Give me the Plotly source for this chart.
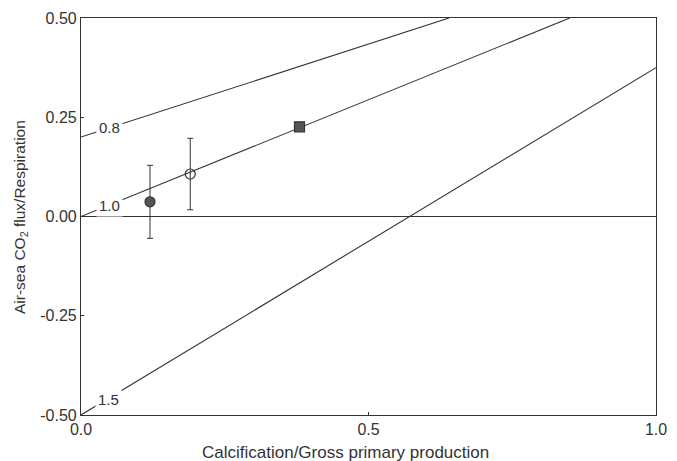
import plotly.graph_objects as go

# Observed points
pt_x = [0.12, 0.19, 0.38]
pt_y = [0.037, 0.107, 0.226]
err_plus = [0.092, 0.090, 0.0]
err_minus = [0.092, 0.090, 0.0]
pt_symbols = ["circle", "circle-open", "square"]

# Isopleth lines (ratio labels) as endpoint pairs
ratio_labels = ["0.8", "1.0", "1.5"]
line_x = [[0.0, 0.64], [0.0, 0.85], [0.0, 1.0]]
line_y = [[0.20, 0.50], [0.0, 0.50], [-0.50, 0.375]]
label_x = [0.05, 0.05, 0.047]
label_y = [0.223, 0.028, -0.461]

x_ticks = [0.0, 0.5, 1.0]
x_ticklabels = ["0.0", "0.5", "1.0"]
y_ticks = [-0.5, -0.25, 0.0, 0.25, 0.5]
y_ticklabels = ["-0.50", "-0.25", "0.00", "0.25", "0.50"]

x_title = "Calcification/Gross primary production"
y_title = "Air-sea CO<sub>2</sub> flux/Respiration"

LINE = "#333333"
FONT = "Liberation Sans, Arial, sans-serif"
L, R, T, B = 81, 21, 18, 46
W, H = 677, 461
PW, PH = W - L - R, H - T - B

fig = go.Figure()

for lx, ly in zip(line_x, line_y):
    fig.add_trace(go.Scatter(x=lx, y=ly, mode="lines",
                             line=dict(color=LINE, width=1.1),
                             hoverinfo="skip", showlegend=False))

for lx, ly, lab in zip(label_x, label_y, ratio_labels):
    fig.add_annotation(x=lx, y=ly, text=lab, showarrow=False,
                       font=dict(family=FONT, size=15, color="#333"),
                       bgcolor="white", borderpad=2)

for i in range(len(pt_x)):
    sym = pt_symbols[i]
    fig.add_trace(go.Scatter(
        x=[pt_x[i]], y=[pt_y[i]], mode="markers",
        marker=dict(symbol=sym, size=10,
                    color="#555555" if sym != "circle-open" else "#333",
                    line=dict(color="#333", width=1.2)),
        error_y=dict(type="data", symmetric=False,
                     array=[err_plus[i]], arrayminus=[err_minus[i]],
                     color=LINE, thickness=1, width=3,
                     visible=err_plus[i] > 0),
        hoverinfo="skip", showlegend=False))

# Axis titles as annotations for exact placement
fig.add_annotation(xref="paper", yref="paper", x=(345 - L) / PW, y=-37 / PH,
                   text=x_title, showarrow=False, xanchor="center", yanchor="middle",
                   font=dict(family=FONT, size=17, color="#333"))
fig.add_annotation(xref="paper", yref="paper", x=-(L - 21) / PW, y=(H - B - 217) / PH,
                   text=y_title, showarrow=False, textangle=-90,
                   xanchor="center", yanchor="middle",
                   font=dict(family=FONT, size=15.5, color="#333"))

fig.update_layout(
    width=W, height=H,
    margin=dict(l=L, r=R, t=T, b=B, autoexpand=False),
    paper_bgcolor="white", plot_bgcolor="white",
    font=dict(family=FONT, size=16, color="#333"),
    xaxis=dict(range=[0, 1], tickvals=x_ticks, ticktext=x_ticklabels,
               showgrid=False, zeroline=False, showline=True, mirror=True,
               linecolor=LINE, linewidth=1.1, ticks="inside", ticklen=3,
               tickcolor=LINE, tickfont=dict(size=16), automargin=False),
    yaxis=dict(range=[-0.5, 0.5], tickvals=y_ticks, ticktext=y_ticklabels,
               showgrid=False, zeroline=True, zerolinecolor=LINE, zerolinewidth=1.1,
               showline=True, mirror=True,
               linecolor=LINE, linewidth=1.1, ticks="inside", ticklen=3,
               tickcolor=LINE, tickfont=dict(size=16), automargin=False),
)

fig.write_html("out.html", config={"displayModeBar": False},
               post_script="document.body.style.margin='0';document.body.style.overflow='hidden';")
